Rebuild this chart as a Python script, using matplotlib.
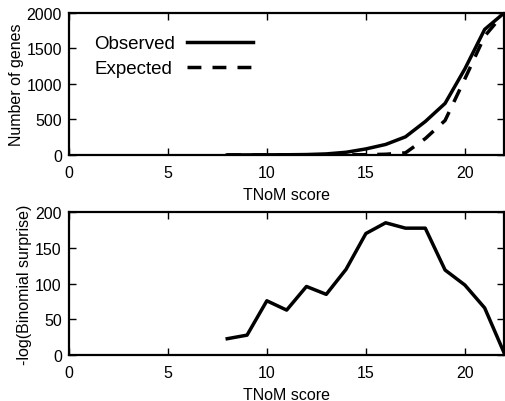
import matplotlib
matplotlib.use("Agg")
import matplotlib.pyplot as plt

# TNoM score values
scores = [8, 9, 10, 11, 12, 13, 14, 15, 16, 17, 18, 19, 20, 21, 22]

# Number of genes
observed = [0, 1, 2, 3, 6, 15, 38, 85, 148, 255, 470, 725, 1210, 1765, 2000]
expected = [0, 0, 0, 0, 0, 1, 2, 4, 10, 30, 230, 485, 1070, 1670, 2000]

# -log(Binomial surprise)
surprise = [23, 28, 76, 63, 96, 85, 120, 170, 185, 177.5, 177.5, 119, 98, 66, 2]

plt.rcParams['font.family'] = ['Liberation Sans', 'DejaVu Sans']
plt.rcParams['font.size'] = 11.5

fig = plt.figure(figsize=(5.06, 4.02), dpi=100)

ax1 = fig.add_axes([0.136, 0.612, 0.861, 0.354])
ax2 = fig.add_axes([0.136, 0.114, 0.861, 0.356])

ax1.plot(scores, observed, c='black', lw=2.5, label='Observed')
ax1.plot(scores, expected, c='black', lw=2.5, ls=(0, (4.0, 3.2)), label='Expected')
ax1.set_xlim(0, 22)
ax1.set_ylim(0, 2000)
ax1.set_yticks([0, 500, 1000, 1500, 2000])
ax1.set_ylabel('Number of genes')
ax1.set_xlabel('TNoM score')
leg = ax1.legend(loc='upper left', frameon=False, markerfirst=False, fontsize=13.5,
                 handlelength=3.55, borderaxespad=0.0, labelspacing=0.42,
                 bbox_to_anchor=(0.041, 0.895))
# left-align the legend texts, handles pushed to the right
for col in leg._legend_handle_box.get_children():
    for item in col.get_children():
        item.mode = 'expand'
        item.width = 159

ax2.plot(scores, surprise, c='black', lw=2.5)
ax2.set_xlim(0, 22)
ax2.set_ylim(0, 200)
ax2.set_yticks([0, 50, 100, 150, 200])
ax2.set_ylabel('-log(Binomial surprise)')
ax2.set_xlabel('TNoM score')

for ax in (ax1, ax2):
    ax.set_xticks([0, 5, 10, 15, 20])
    ax.tick_params(direction='in', top=True, right=True, length=5, width=1)
    ax.tick_params(axis='x', pad=7)
    ax.tick_params(axis='y', pad=5)
    for s in ax.spines.values():
        s.set_linewidth(1.6)
    ax.xaxis.labelpad = 5
    ax.yaxis.labelpad = 2

fig.savefig('out.png', dpi=100)
